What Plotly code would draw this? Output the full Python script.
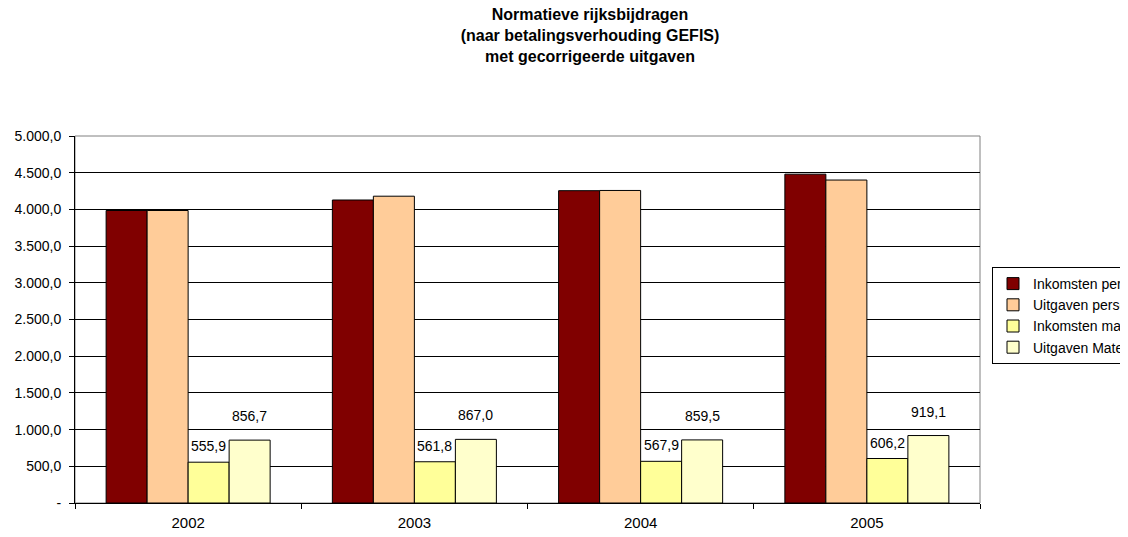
import plotly.graph_objects as go

years = ["2002", "2003", "2004", "2005"]
series_names = ["Inkomsten personeel", "Uitgaven personeel", "Inkomsten materieel", "Uitgaven Materieel"]
inkomsten_personeel = [3985, 4128, 4255, 4480]
uitgaven_personeel = [3985, 4180, 4258, 4400]
inkomsten_materieel = [555.9, 561.8, 567.9, 606.2]
uitgaven_materieel = [856.7, 867.0, 859.5, 919.1]
y_ticks = [0, 500, 1000, 1500, 2000, 2500, 3000, 3500, 4000, 4500, 5000]

colors = ["#800000", "#FFCC99", "#FFFF99", "#FFFFCC"]
all_values = [inkomsten_personeel, uitgaven_personeel, inkomsten_materieel, uitgaven_materieel]
labelled = [False, False, True, True]
label_shift = [0, 0, 16, 24]


def nl(v):
    s = f"{v:,.1f}"
    return s.replace(",", "X").replace(".", ",").replace("X", ".")


FONT = "Liberation Sans, Arial, sans-serif"
W, H = 1120, 529  # page body has an 8px margin
bargap = 0.275
fig = go.Figure()
for name, vals, col in zip(series_names, all_values, colors):
    fig.add_trace(go.Bar(
        x=years, y=vals, name=name,
        marker=dict(color=col, line=dict(color="#000000", width=1)),
        hoverinfo="x+y+name",
    ))

w = (1 - bargap) / 4
annotations = []
for k, vals in enumerate(all_values):
    if not labelled[k]:
        continue
    for i, v in enumerate(vals):
        annotations.append(dict(
            x=i + (k - 1.5) * w, y=v, xref="x", yref="y",
            text=nl(v), showarrow=False, yanchor="middle", yshift=label_shift[k],
            font=dict(family=FONT, size=14, color="#000000"),
        ))

plot_l, plot_r, plot_t, plot_b = 67, 972, 128, 495
fig.update_layout(
    width=W, height=H,
    paper_bgcolor="white", plot_bgcolor="white",
    margin=dict(l=plot_l, r=W - plot_r, t=plot_t, b=H - plot_b, autoexpand=False),
    barmode="group", bargap=bargap, bargroupgap=0,
    title=dict(
        text="<b>Normatieve rijksbijdragen<br>(naar betalingsverhouding GEFIS)<br>met gecorrigeerde uitgaven</b>",
        x=582 / W, xanchor="center", xref="container",
        y=1 - 12 / H, yanchor="top", yref="container",
        font=dict(family=FONT, size=16, color="#000000"),
    ),
    font=dict(family=FONT, color="#000000"),
    legend=dict(
        x=(984 - plot_l) / (plot_r - plot_l), xanchor="left",
        y=(plot_b - 259) / (plot_b - plot_t), yanchor="top",
        bordercolor="#000000", borderwidth=1, bgcolor="white",
        font=dict(family=FONT, size=14, color="#000000"),
        tracegroupgap=0, itemwidth=30,
    ),
    xaxis=dict(
        type="category", showgrid=False, showline=True, linecolor="#000000", linewidth=1,
        ticks="outside", tickson="boundaries", ticklen=5, tickcolor="#000000",
        tickfont=dict(family=FONT, size=15, color="#000000"), ticklabelstandoff=6,
        range=[-0.5, 3.5],
    ),
    yaxis=dict(
        range=[0, 5000], tickvals=y_ticks,
        ticktext=["-" if v == 0 else nl(v) for v in y_ticks],
        showgrid=True, gridcolor="#000000", gridwidth=1,
        showline=True, linecolor="#000000", linewidth=1,
        ticks="outside", ticklen=5, tickcolor="#000000",
        tickfont=dict(family=FONT, size=14, color="#000000"), ticklabelstandoff=5,
        zeroline=False,
    ),
    shapes=[dict(type="rect", xref="paper", yref="paper", x0=0, x1=1, y0=0, y1=1,
                 line=dict(color="#808080", width=1), layer="below")],
    annotations=annotations,
)

fig.write_html("out.html")
